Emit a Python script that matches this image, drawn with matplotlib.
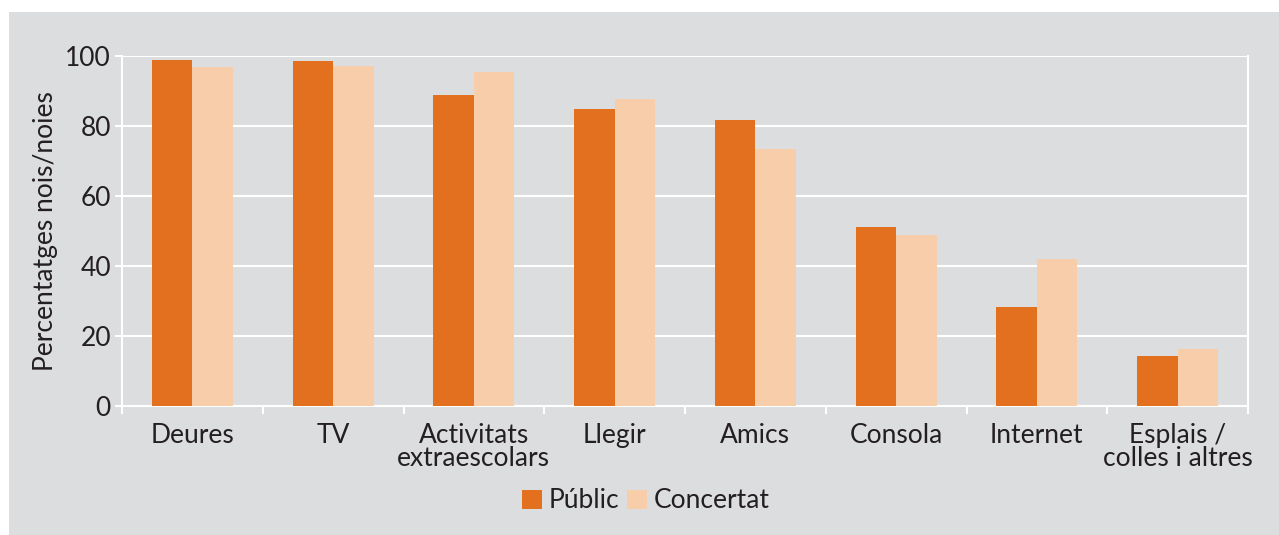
import matplotlib
matplotlib.use("Agg")
import matplotlib.pyplot as plt
from matplotlib.patches import Rectangle
import numpy as np

categories = ["Deures", "TV", "Activitats\nextraescolars", "Llegir", "Amics",
              "Consola", "Internet", "Esplais /\ncolles i altres"]
public = [98.8, 98.5, 88.9, 84.9, 81.7, 51.2, 28.3, 14.3]
concertat = [96.8, 97.1, 95.4, 87.7, 73.4, 48.9, 42.0, 16.3]
series_names = ["Públic", "Concertat"]
yticks = [0, 20, 40, 60, 80, 100]

ORANGE = "#E3701E"
PEACH = "#F8CDAA"
PANEL = "#DCDDDF"
TEXT = "#231F20"
FS = 19

plt.rcParams["font.family"] = ["Lato", "DejaVu Sans"]

W, H = 1279, 535
fig = plt.figure(figsize=(W / 100, H / 100), dpi=100, facecolor="white")
fig.patches.append(Rectangle((9 / W, 0), 1 - 9 / W, 1 - 12 / H,
                             transform=fig.transFigure, facecolor=PANEL,
                             edgecolor="none", zorder=-10))

ax = fig.add_axes([122 / W, 1 - 406 / H, (1248 - 122) / W, (406 - 56) / H])
ax.set_facecolor(PANEL)

n = len(categories)
x = np.arange(n)
bw = 0.287
ax.bar(x - bw / 2, public, bw, color=ORANGE, label=series_names[0], zorder=3)
ax.bar(x + bw / 2, concertat, bw, color=PEACH, label=series_names[1], zorder=3)

ax.set_xlim(-0.5, n - 0.5)
ax.set_ylim(0, 100)
ax.set_yticks(yticks)
ax.set_yticklabels([str(v) for v in yticks], fontsize=FS, color=TEXT)
ax.yaxis.grid(True, color="white", linewidth=1.5, zorder=1)
ax.set_axisbelow(True)

# category labels centred, ticks on group boundaries
ax.set_xticks(x)
ax.set_xticklabels(categories, fontsize=FS, color=TEXT, linespacing=0.92)
ax.tick_params(axis="x", length=0, pad=12)
ax.set_xticks(np.arange(n + 1) - 0.5, minor=True)
ax.tick_params(axis="x", which="minor", length=6, color="white", width=1.5)
ax.tick_params(axis="y", length=5, color="white", width=1.5, pad=3)

for side in ["left", "bottom", "right"]:
    ax.spines[side].set_color("white")
    ax.spines[side].set_linewidth(1.5)
ax.spines["top"].set_visible(False)

ax.set_ylabel("Percentatges nois/noies", fontsize=FS, color=TEXT, labelpad=5)

leg = fig.legend(loc="center", bbox_to_anchor=(646 / W, 1 - 501 / H), ncol=2,
                 frameon=False, fontsize=FS, handlelength=0.75, handleheight=0.75,
                 handletextpad=0.25, columnspacing=0.3)
for t in leg.get_texts():
    t.set_color(TEXT)

fig.savefig("out.png", dpi=100, facecolor="white")
